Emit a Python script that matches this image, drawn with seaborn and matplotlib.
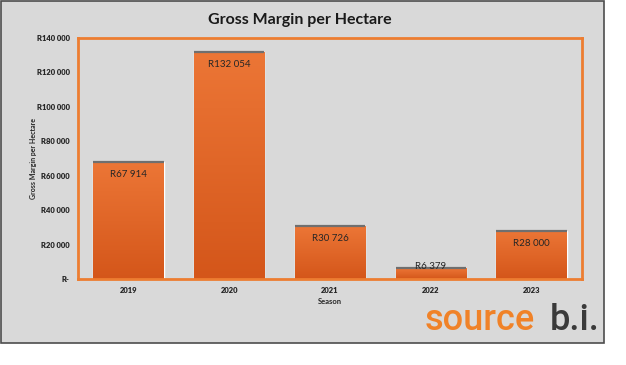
import numpy as np
import pandas as pd
import matplotlib
matplotlib.use('Agg')
import matplotlib.pyplot as plt
import seaborn as sns
from matplotlib.patches import Rectangle
from matplotlib.colors import LinearSegmentedColormap

seasons = ['2019', '2020', '2021', '2022', '2023']
margin = [67914, 132054, 30726, 6379, 28000]
y_ticks = [0, 20000, 40000, 60000, 80000, 100000, 120000, 140000]

sns.set_theme(style='white')
plt.rcParams['font.family'] = ['Lato', 'DejaVu Sans']

df = pd.DataFrame({'Season': seasons, 'Margin': margin})

fig = plt.figure(figsize=(6.26, 3.65), dpi=100)
fig.patch.set_facecolor('white')

# grey card behind the chart
card = Rectangle((0.0015, 22 / 365), 603 / 626, 342 / 365, transform=fig.transFigure,
                 facecolor='#d9d9d9', edgecolor='#4d4d4d', linewidth=1.2, zorder=-10)
fig.patches.append(card)

ax = fig.add_axes([78 / 626, 86 / 365, 504 / 626, 241 / 365])
ax.set_facecolor('#d9d9d9')

sns.barplot(data=df, x='Season', y='Margin', color='#e2662a', width=0.7, ax=ax, saturation=1)

# orange gradient on each bar + grey top edge
cmap = LinearSegmentedColormap.from_list('bar', ['#d4561a', '#ec7636'])
grad = np.linspace(0, 1, 256).reshape(-1, 1)
for p in ax.patches:
    x0, w, h = p.get_x(), p.get_width(), p.get_height()
    im = ax.imshow(grad, cmap=cmap, origin='lower', aspect='auto',
                   extent=[x0, x0 + w, 0, h], zorder=p.get_zorder() + 0.1)
    im.set_clip_path(p)
    ax.hlines(h, x0, x0 + w, color='#6f6f6f', linewidth=1.6, zorder=p.get_zorder() + 0.2)

ax.set_xlim(-0.5, 4.5)
ax.set_ylim(0, 140000)
ax.tick_params(axis='both', length=0, colors='#262626', pad=6)
ax.set_yticks(y_ticks)
ax.set_yticklabels(['R-' if v == 0 else 'R' + f'{v:,.0f}'.replace(',', ' ') for v in y_ticks],
                   fontweight='heavy', fontsize=5.5)
ax.set_xticks(range(len(seasons)))
ax.set_xticklabels(seasons, fontweight='heavy', fontsize=5.5)

for i, v in enumerate(margin):
    label = 'R' + f'{v:,.0f}'.replace(',', ' ')
    if v < 12000:
        ax.text(i, v + 800, label, ha='center', va='center', fontsize=7, color='#262626', zorder=5)
    else:
        ax.annotate(label, (i, v), xytext=(0, -6), textcoords='offset points',
                    ha='center', va='top', fontsize=7, color='#262626', zorder=5)

for s in ax.spines.values():
    s.set_color('#ed7d31')
    s.set_linewidth(2)

ax.set_xlabel('Season', fontsize=5.5, fontweight='bold', color='#262626', labelpad=3)
ax.set_ylabel('Gross Margin per Hectare', fontsize=5, fontweight='bold', color='#262626', labelpad=3)
ax.yaxis.set_label_coords(-0.082, 0.5)

fig.text(0.479, 0.945, 'Gross Margin per Hectare', ha='center', va='center',
         fontsize=11.5, fontweight='bold', color='#1a1a1a')

# logo
fig.text(425 / 626, 1 - 320 / 365, 'source', ha='left', va='center', fontsize=26,
         family=['Roboto', 'DejaVu Sans'], fontweight='medium', color='#f08228')
fig.text(550 / 626, 1 - 320 / 365, 'b.i.', ha='left', va='center', fontsize=26,
         family=['Roboto', 'DejaVu Sans'], fontweight='medium', color='#3a3a3a')

fig.savefig('out.png', dpi=100)
